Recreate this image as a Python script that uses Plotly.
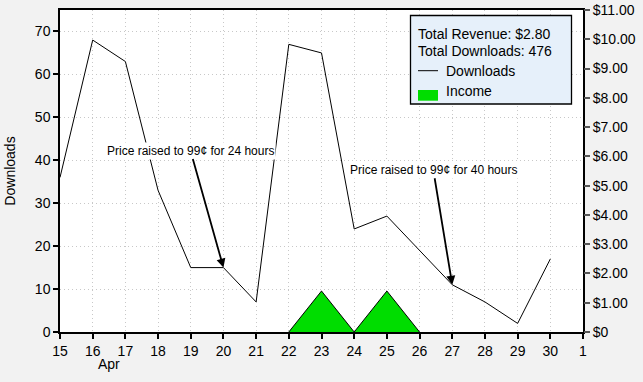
import plotly.graph_objects as go

days = ["2012-04-%02d" % d for d in range(15, 31)]
downloads = [36, 68, 63, 33, 15, 15, 7, 67, 65, 24, 27, 19, 11, 7, 2, 17]
income_days = ["2012-04-22", "2012-04-23", "2012-04-24", "2012-04-25", "2012-04-26"]
income = [0, 1.40, 0, 1.40, 0]
y2_vals = list(range(0, 12))
y2_text = ["$0"] + ["$%d.00" % v for v in range(1, 12)]
total_revenue = "$2.80"
total_downloads = 476

FONT = "Liberation Sans, Arial, Helvetica, sans-serif"
W, H = 643, 382
ML, MR, MT, MB = 60, 60, 10, 50
PW, PH = W - ML - MR, H - MT - MB


def px(x):
    return (x - ML) / PW


def py(y):
    return (H - MB - y) / PH


fig = go.Figure()
fig.add_trace(go.Scatter(
    x=days, y=downloads, mode="lines", name="Downloads",
    line=dict(color="black", width=1), yaxis="y"))
fig.add_trace(go.Scatter(
    x=income_days, y=income, mode="lines", name="Income",
    line=dict(color="black", width=1), fill="tozeroy", fillcolor="#00dd00",
    yaxis="y2"))

fig.update_layout(
    width=W, height=H,
    margin=dict(l=ML, r=MR, t=MT, b=MB),
    paper_bgcolor="#f2f2f2", plot_bgcolor="white",
    font=dict(family=FONT, size=14, color="black"),
    showlegend=False,
    xaxis=dict(
        type="date", range=["2012-04-15", "2012-05-01"],
        dtick=86400000, tick0="2012-04-15", tickformat="%-d",
        ticks="outside", ticklen=5, tickcolor="black", tickwidth=1.5,
        showline=True, linecolor="black", linewidth=1.5, mirror=True,
        showgrid=True, gridcolor="#c8c8c8", griddash="1px,3px", gridwidth=1,
        zeroline=False, tickfont=dict(size=14), automargin=False,
    ),
    yaxis=dict(
        range=[0, 75], tickvals=[0, 10, 20, 30, 40, 50, 60, 70],
        ticks="outside", ticklen=5, tickcolor="black", tickwidth=1.5,
        showline=True, linecolor="black", linewidth=1.5, mirror=True,
        showgrid=True, gridcolor="#c8c8c8", griddash="1px,3px", gridwidth=1,
        zeroline=False, tickfont=dict(size=14), automargin=False,
        title=dict(text="Downloads", font=dict(size=14), standoff=16),
    ),
    yaxis2=dict(
        range=[0, 11], overlaying="y", side="right",
        tickvals=y2_vals, ticktext=y2_text,
        ticks="outside", ticklen=6, tickcolor="#555555", tickwidth=1.5,
        showgrid=False, zeroline=False, showline=False,
        tickfont=dict(size=14), automargin=False,
    ),
)

fig.add_annotation(x="2012-04-16 12:00", y=0, xref="x", yref="paper",
                   text="Apr", showarrow=False, yanchor="top", yshift=-22,
                   font=dict(size=14))

fig.add_annotation(x="2012-04-20", y=15, xref="x", yref="y",
                   text="Price raised to 99¢ for 24 hours", showarrow=True,
                   ax=-33, ay=-117, arrowhead=2, arrowwidth=1.8, arrowsize=1,
                   arrowcolor="black", bgcolor="white", font=dict(size=12))
fig.add_annotation(x="2012-04-27", y=11, xref="x", yref="y",
                   text="Price raised to 99¢ for 40 hours", showarrow=True,
                   ax=-19, ay=-115, arrowhead=2, arrowwidth=1.8, arrowsize=1,
                   arrowcolor="black", bgcolor="white", font=dict(size=12))

# legend box
fig.add_shape(type="rect", xref="paper", yref="paper",
              x0=px(410.5), x1=px(571.5), y0=py(104), y1=py(15.5),
              fillcolor="#e6f0fa", line=dict(color="black", width=1.3), layer="above")
fig.add_annotation(xref="paper", yref="paper", x=px(416), y=py(34), xanchor="left",
                   yanchor="middle", showarrow=False,
                   text="Total Revenue: %s" % total_revenue, font=dict(size=14))
fig.add_annotation(xref="paper", yref="paper", x=px(416), y=py(51), xanchor="left",
                   yanchor="middle", showarrow=False,
                   text="Total Downloads: %d" % total_downloads, font=dict(size=14))
fig.add_shape(type="line", xref="paper", yref="paper",
              x0=px(418), x1=px(438), y0=py(70.7), y1=py(70.7),
              line=dict(color="black", width=1), layer="above")
fig.add_annotation(xref="paper", yref="paper", x=px(443.5), y=py(71), xanchor="left",
                   yanchor="middle", showarrow=False, text="Downloads", font=dict(size=14))
fig.add_shape(type="rect", xref="paper", yref="paper",
              x0=px(418), x1=px(438), y0=py(100.7), y1=py(90),
              fillcolor="#00dd00", line=dict(width=0), layer="above")
fig.add_annotation(xref="paper", yref="paper", x=px(443.5), y=py(91), xanchor="left",
                   yanchor="middle", showarrow=False, text="Income", font=dict(size=14))

fig.write_html("out.html", config={"displayModeBar": False},
               post_script="document.body.style.margin='0';document.body.style.padding='0';")
